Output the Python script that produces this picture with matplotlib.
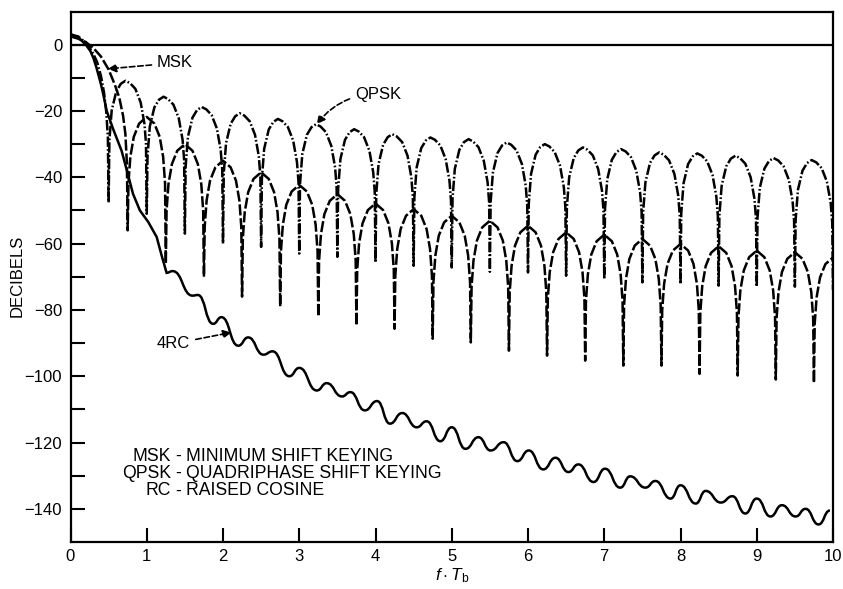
import matplotlib
matplotlib.use("Agg")
import matplotlib.pyplot as plt
from matplotlib.path import Path
from matplotlib.patches import PathPatch

# ---- data (f*Tb, dB) ----
qpsk_f = [
    0.00, 0.10, 0.20, 0.25, 0.30, 0.35, 0.40, 0.44, 0.47, 0.49, 0.50,
    0.51, 0.54, 0.60, 0.66, 0.72, 0.78, 0.85, 0.92, 0.97, 0.99, 1.00,
    1.01, 1.04, 1.10, 1.16, 1.22, 1.28, 1.35, 1.42, 1.47, 1.49, 1.50,
    1.51, 1.54, 1.60, 1.66, 1.72, 1.78, 1.85, 1.92, 1.97, 1.99, 2.00,
    2.01, 2.04, 2.10, 2.16, 2.22, 2.28, 2.35, 2.42, 2.47, 2.49, 2.50,
    2.51, 2.54, 2.60, 2.66, 2.72, 2.78, 2.85, 2.92, 2.97, 2.99, 3.00,
    3.01, 3.04, 3.10, 3.16, 3.22, 3.28, 3.35, 3.42, 3.47, 3.49, 3.50,
    3.51, 3.54, 3.60, 3.66, 3.72, 3.78, 3.85, 3.92, 3.97, 3.99, 4.00,
    4.01, 4.04, 4.10, 4.16, 4.22, 4.28, 4.35, 4.42, 4.47, 4.49, 4.50,
    4.51, 4.54, 4.60, 4.66, 4.72, 4.78, 4.85, 4.92, 4.97, 4.99, 5.00,
    5.01, 5.04, 5.10, 5.16, 5.22, 5.28, 5.35, 5.42, 5.47, 5.49, 5.50,
    5.51, 5.54, 5.60, 5.66, 5.72, 5.78, 5.85, 5.92, 5.97, 5.99, 6.00,
    6.01, 6.04, 6.10, 6.16, 6.22, 6.28, 6.35, 6.42, 6.47, 6.49, 6.50,
    6.51, 6.54, 6.60, 6.66, 6.72, 6.78, 6.85, 6.92, 6.97, 6.99, 7.00,
    7.01, 7.04, 7.10, 7.16, 7.22, 7.28, 7.35, 7.42, 7.47, 7.49, 7.50,
    7.51, 7.54, 7.60, 7.66, 7.72, 7.78, 7.85, 7.92, 7.97, 7.99, 8.00,
    8.01, 8.04, 8.10, 8.16, 8.22, 8.28, 8.35, 8.42, 8.47, 8.49, 8.50,
    8.51, 8.54, 8.60, 8.66, 8.72, 8.78, 8.85, 8.92, 8.97, 8.99, 9.00,
    9.01, 9.04, 9.10, 9.16, 9.22, 9.28, 9.35, 9.42, 9.47, 9.49, 9.50,
    9.51, 9.54, 9.60, 9.66, 9.72, 9.78, 9.85, 9.92, 9.97, 9.99, 10.00,
]
qpsk_db = [
    3.0, 2.5, 0.6, -0.9, -2.8, -5.3, -9.5, -14.5, -20.5, -28.0, -47.6,
    -28.9, -19.9, -14.1, -11.8, -10.9, -11.6, -13.3, -17.4, -23.9, -29.9, -51.0,
    -33.7, -24.7, -18.9, -16.6, -15.7, -16.4, -18.1, -22.2, -28.7, -34.7, -57.0,
    -36.8, -27.8, -22.0, -19.7, -18.8, -19.5, -21.2, -25.3, -31.8, -37.8, -60.0,
    -38.7, -29.7, -23.9, -21.6, -20.7, -21.4, -23.1, -27.2, -33.7, -39.7, -61.0,
    -40.4, -31.4, -25.6, -23.3, -22.4, -23.1, -24.8, -28.9, -35.4, -41.4, -63.0,
    -42.0, -33.0, -27.2, -24.9, -24.0, -24.7, -26.4, -30.5, -37.0, -43.0, -64.0,
    -43.5, -34.5, -28.7, -26.4, -25.5, -26.2, -27.9, -32.0, -38.5, -44.5, -65.7,
    -45.0, -36.0, -30.2, -27.9, -27.0, -27.7, -29.4, -33.5, -40.0, -46.0, -66.7,
    -46.0, -37.0, -31.2, -28.9, -28.0, -28.7, -30.4, -34.5, -41.0, -47.0, -67.2,
    -46.5, -37.5, -31.7, -29.4, -28.5, -29.2, -30.9, -35.0, -41.5, -47.5, -68.5,
    -47.5, -38.5, -32.7, -30.4, -29.5, -30.2, -31.9, -36.0, -42.5, -48.5, -68.7,
    -48.0, -39.0, -33.2, -30.9, -30.0, -30.7, -32.4, -36.5, -43.0, -49.0, -69.7,
    -49.0, -40.0, -34.2, -31.9, -31.0, -31.7, -33.4, -37.5, -44.0, -50.0, -70.7,
    -49.5, -40.5, -34.7, -32.4, -31.5, -32.2, -33.9, -38.0, -44.5, -50.5, -71.7,
    -50.5, -41.5, -35.7, -33.4, -32.5, -33.2, -34.9, -39.0, -45.5, -51.5, -72.2,
    -50.8, -41.8, -36.0, -33.7, -32.8, -33.5, -35.2, -39.3, -45.8, -51.8, -72.7,
    -51.5, -42.5, -36.7, -34.4, -33.5, -34.2, -35.9, -40.0, -46.5, -52.5, -73.0,
    -52.2, -43.2, -37.4, -35.1, -34.2, -34.9, -36.6, -40.7, -47.2, -53.2, -73.0,
    -52.8, -43.8, -38.0, -35.7, -34.8, -35.5, -37.2, -41.3, -47.8, -53.8, -74.0,
]

msk_f = [
    0.00, 0.10, 0.20, 0.30, 0.40, 0.50, 0.58, 0.64, 0.69, 0.72, 0.74, 0.75,
    0.76, 0.785, 0.83, 0.90, 1.00, 1.10, 1.17, 1.215, 1.24, 1.25,
    1.26, 1.285, 1.33, 1.40, 1.50, 1.60, 1.67, 1.715, 1.74, 1.75,
    1.76, 1.785, 1.83, 1.90, 2.00, 2.10, 2.17, 2.215, 2.24, 2.25,
    2.26, 2.285, 2.33, 2.40, 2.50, 2.60, 2.67, 2.715, 2.74, 2.75,
    2.76, 2.785, 2.83, 2.90, 3.00, 3.10, 3.17, 3.215, 3.24, 3.25,
    3.26, 3.285, 3.33, 3.40, 3.50, 3.60, 3.67, 3.715, 3.74, 3.75,
    3.76, 3.785, 3.83, 3.90, 4.00, 4.10, 4.17, 4.215, 4.24, 4.25,
    4.26, 4.285, 4.33, 4.40, 4.50, 4.60, 4.67, 4.715, 4.74, 4.75,
    4.76, 4.785, 4.83, 4.90, 5.00, 5.10, 5.17, 5.215, 5.24, 5.25,
    5.26, 5.285, 5.33, 5.40, 5.50, 5.60, 5.67, 5.715, 5.74, 5.75,
    5.76, 5.785, 5.83, 5.90, 6.00, 6.10, 6.17, 6.215, 6.24, 6.25,
    6.26, 6.285, 6.33, 6.40, 6.50, 6.60, 6.67, 6.715, 6.74, 6.75,
    6.76, 6.785, 6.83, 6.90, 7.00, 7.10, 7.17, 7.215, 7.24, 7.25,
    7.26, 7.285, 7.33, 7.40, 7.50, 7.60, 7.67, 7.715, 7.74, 7.75,
    7.76, 7.785, 7.83, 7.90, 8.00, 8.10, 8.17, 8.215, 8.24, 8.25,
    8.26, 8.285, 8.33, 8.40, 8.50, 8.60, 8.67, 8.715, 8.74, 8.75,
    8.76, 8.785, 8.83, 8.90, 9.00, 9.10, 9.17, 9.215, 9.24, 9.25,
    9.26, 9.285, 9.33, 9.40, 9.50, 9.60, 9.67, 9.715, 9.74, 9.75,
    9.76, 9.785, 9.83, 9.90, 10.00,
]
msk_db = [
    2.5, 1.8, 0.8, -1.0, -3.6, -7.5, -12.0, -16.0, -21.5, -27.0, -36.0, -56.0,
    -41.8, -33.8, -27.8, -23.8, -21.8, -23.8, -27.8, -33.8, -41.8, -66.0,
    -50.0, -42.0, -36.0, -32.0, -30.0, -32.0, -36.0, -42.0, -50.0, -70.0,
    -55.0, -47.0, -41.0, -37.0, -35.0, -37.0, -41.0, -47.0, -55.0, -76.0,
    -58.5, -50.5, -44.5, -40.5, -38.5, -40.5, -44.5, -50.5, -58.5, -79.0,
    -62.3, -54.3, -48.3, -44.3, -42.3, -44.3, -48.3, -54.3, -62.3, -82.0,
    -65.1, -57.1, -51.1, -47.1, -45.1, -47.1, -51.1, -57.1, -65.1, -84.7,
    -67.9, -59.9, -53.9, -49.9, -47.9, -49.9, -53.9, -59.9, -67.9, -85.7,
    -69.6, -61.6, -55.6, -51.6, -49.6, -51.6, -55.6, -61.6, -69.6, -88.7,
    -71.6, -63.6, -57.6, -53.6, -51.6, -53.6, -57.6, -63.6, -71.6, -89.8,
    -73.1, -65.1, -59.1, -55.1, -53.1, -55.1, -59.1, -65.1, -73.1, -92.3,
    -74.6, -66.6, -60.6, -56.6, -54.6, -56.6, -60.6, -66.6, -74.6, -93.8,
    -76.6, -68.6, -62.6, -58.6, -56.6, -58.6, -62.6, -68.6, -76.6, -95.3,
    -77.3, -69.3, -63.3, -59.3, -57.3, -59.3, -63.3, -69.3, -77.3, -96.8,
    -78.6, -70.6, -64.6, -60.6, -58.6, -60.6, -64.6, -70.6, -78.6, -96.8,
    -80.1, -72.1, -66.1, -62.1, -60.1, -62.1, -66.1, -72.1, -80.1, -99.3,
    -80.8, -72.8, -66.8, -62.8, -60.8, -62.8, -66.8, -72.8, -80.8, -99.8,
    -82.1, -74.1, -68.1, -64.1, -62.1, -64.1, -68.1, -74.1, -82.1, -101.0,
    -82.6, -74.6, -68.6, -64.6, -62.6, -64.6, -68.6, -74.6, -82.6, -102.0,
    -84.2, -76.2, -70.2, -66.2, -64.2,
]

# 4RC: smooth main-lobe descent, then the ripple turning points
rc_head_f = [0.00, 0.10, 0.20, 0.26, 0.30, 0.34, 0.40, 0.43, 0.475, 0.56,
             0.67, 0.74, 0.82, 0.91, 1.02, 1.13, 1.20, 1.26]
rc_head_db = [3.2, 2.2, 0.0, -1.9, -4.0, -6.9, -12.0, -15.0, -20.0, -25.5,
              -32.0, -38.0, -45.0, -50.0, -53.5, -58.0, -64.0, -68.8]
rc_turn_f = [1.26, 1.34, 1.60, 1.67, 1.87, 1.98, 2.20, 2.33, 2.53, 2.65,
             2.87, 3.00, 3.23, 3.36, 3.56, 3.67, 3.86, 4.02, 4.19, 4.35,
             4.54, 4.67, 4.85, 5.00, 5.18, 5.35, 5.51, 5.68, 5.86, 6.01,
             6.20, 6.36, 6.53, 6.66, 6.86, 7.01, 7.21, 7.34, 7.54, 7.67,
             7.87, 8.00, 8.20, 8.33, 8.53, 8.68, 8.85, 9.00, 9.18, 9.33,
             9.51, 9.64, 9.81, 9.96]
rc_turn_db = [-68.8, -68.3, -75.7, -75.5, -84.2, -82.2, -90.8, -88.3, -93.5, -92.5,
              -100.0, -97.5, -104.3, -102.1, -106.1, -104.8, -110.3, -107.5, -114.3, -111.1,
              -115.4, -113.6, -119.6, -115.4, -121.9, -118.4, -122.4, -119.9, -125.6, -122.4,
              -128.1, -124.6, -128.9, -126.6, -131.9, -127.9, -133.6, -130.2, -133.6, -131.6,
              -136.9, -132.9, -138.4, -134.6, -138.1, -136.2, -141.4, -136.9, -142.3, -138.9,
              -142.3, -140.0, -144.7, -140.5]

legend_keys = ["MSK", "QPSK", "RC"]
legend_names = ["MINIMUM SHIFT KEYING", "QUADRIPHASE SHIFT KEYING", "RAISED COSINE"]

plt.rcParams["font.family"] = ["Liberation Sans", "DejaVu Sans"]
plt.rcParams["mathtext.fontset"] = "custom"
plt.rcParams["mathtext.it"] = "Liberation Sans:italic"
plt.rcParams["mathtext.rm"] = "Liberation Sans"
plt.rcParams["lines.scale_dashes"] = False

fig = plt.figure(figsize=(8.43, 5.89), dpi=100)
ax = fig.add_axes([70.5 / 843, 1 - 542 / 589, 762.5 / 843, 530.5 / 589])

ax.axhline(0, color="black", lw=1.6)
ax.plot(qpsk_f, qpsk_db, color="black", lw=1.8,
        linestyle=(0, (7.5, 1.6, 1.2, 1.6)), solid_joinstyle="miter")
ax.plot(msk_f, msk_db, color="black", lw=1.8,
        linestyle=(0, (8, 2)), solid_joinstyle="miter")
ax.plot(rc_head_f, rc_head_db, color="black", lw=1.8)

# ripples of 4RC: smooth S-curves between successive turning points
verts = [(rc_turn_f[0], rc_turn_db[0])]
codes = [Path.MOVETO]
for i in range(1, len(rc_turn_f)):
    x0, y0 = rc_turn_f[i - 1], rc_turn_db[i - 1]
    x1, y1 = rc_turn_f[i], rc_turn_db[i]
    xm = (x0 + x1) / 2
    verts += [(xm, y0), (xm, y1), (x1, y1)]
    codes += [Path.CURVE4] * 3
ax.add_patch(PathPatch(Path(verts, codes), fill=False, lw=1.8, edgecolor="black"))

ax.set_xlim(0, 10)
ax.set_ylim(-150, 10)
ax.set_xticks(range(0, 11))
ax.set_xticklabels([str(v) for v in range(0, 11)])
ax.set_yticks(range(-140, 1, 20))
ax.set_yticks(range(-130, 0, 20), minor=True)
ax.tick_params(which="both", direction="in", length=10, width=1.5,
               labelsize=12, top=False, right=False)
ax.tick_params(axis="y", pad=6)
ax.tick_params(axis="x", pad=5)
for sp in ax.spines.values():
    sp.set_linewidth(1.6)

fig.text(17.5 / 843, 1 - 276 / 589, "DECIBELS", rotation=90,
         ha="center", va="center", fontsize=12)
fig.text(452 / 843, 1 - 566 / 589, r"$f \cdot T_{\mathrm{b}}$",
         ha="center", va="top", fontsize=12.5)

arrow = dict(arrowstyle="-|>", linestyle=(0, (4, 2)), lw=1.2, color="black",
             mutation_scale=12, shrinkA=2, shrinkB=0)
ax.annotate("MSK", xy=(0.49, -7.3), xytext=(1.135, -5.5), ha="left",
            va="center", fontsize=12, arrowprops=arrow)
ax.annotate("QPSK", xy=(3.23, -24.0), xytext=(3.73, -14.9), ha="left",
            va="center", fontsize=12,
            arrowprops=dict(arrow, connectionstyle="arc3,rad=0.25"))
ax.annotate("4RC", xy=(2.11, -86.8), xytext=(1.135, -90.2), ha="left",
            va="center", fontsize=12, arrowprops=arrow)

for i, (k, name) in enumerate(zip(legend_keys, legend_names)):
    y = -124.2 - 5.2 * i
    ax.text(1.32, y, k, ha="right", va="center", fontsize=12.7)
    ax.text(1.41, y, "-", ha="center", va="center", fontsize=12.7)
    ax.text(1.515, y, name, ha="left", va="center", fontsize=12.7)

fig.savefig("out.png", dpi=100)
